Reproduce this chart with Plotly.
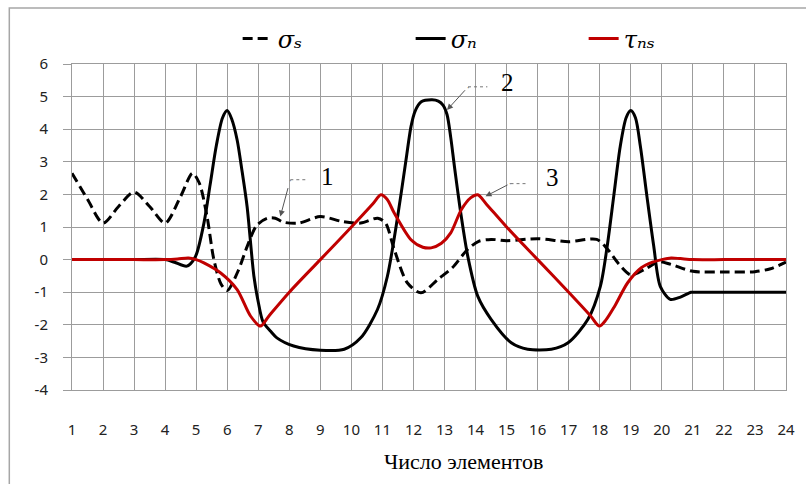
import plotly.graph_objects as go

# ---- data ----
x_ticks = list(range(1, 25))
y_ticks = list(range(-4, 7))

sigma_s_x = [1, 1.5, 2, 2.5, 3, 3.5, 4, 4.5, 4.88, 5.1, 5.35, 5.57, 5.8, 6.0, 6.35, 6.65, 6.95,
             7.3, 7.55, 7.8, 8.3, 9.0, 9.7, 10.3, 10.85, 11.1, 11.38, 11.8, 12.24, 12.78, 13.25,
             13.74, 14.1, 14.5, 15, 16, 17, 17.9, 18.26, 18.6, 19.0, 19.5, 19.9, 20.3, 21, 22,
             23, 23.5, 24]
sigma_s_y = [2.65, 1.85, 1.12, 1.63, 2.07, 1.63, 1.12, 1.94, 2.65, 2.35, 1.32, 0.0, -0.75, -0.95,
             -0.35, 0.42, 1.05, 1.27, 1.27, 1.15, 1.12, 1.32, 1.17, 1.12, 1.27, 1.12, 0.31, -0.71,
             -1.02, -0.61, -0.25, 0.31, 0.56, 0.62, 0.58, 0.64, 0.55, 0.62, 0.31, -0.12, -0.47,
             -0.27, -0.06, -0.15, -0.36, -0.38, -0.37, -0.28, -0.08]

sigma_n_x = [1, 2, 3, 4, 4.3, 4.7, 4.97, 5.25, 5.45, 5.65, 5.85, 6.0, 6.15, 6.32, 6.48, 6.64,
             6.86, 7.0, 7.15, 7.4, 7.6, 8.14, 9.0, 9.77, 10.3, 10.84, 11.16, 11.49, 11.76, 11.92,
             12.05, 12.25, 12.6, 12.8, 12.95, 13.08, 13.2, 13.32, 13.54, 13.75, 14.07, 14.5,
             15.15, 15.68, 16.44, 16.98, 17.62, 18.02, 18.24, 18.45, 18.66, 18.85, 19.0, 19.15,
             19.31, 19.52, 19.74, 19.95, 20.27, 20.6, 20.94, 21, 22, 23, 24]
sigma_n_y = [0, 0, 0, 0, -0.08, -0.2, 0.08, 1.12, 2.3, 3.5, 4.35, 4.57, 4.3, 3.67, 2.7, 1.63,
             -0.51, -1.3, -1.9, -2.2, -2.4, -2.65, -2.78, -2.75, -2.4, -1.53, -0.51, 1.32, 3.06,
             4.08, 4.55, 4.84, 4.9, 4.86, 4.74, 4.45, 3.75, 2.85, 1.32, 0.1, -1.12, -1.83, -2.55,
             -2.75, -2.75, -2.55, -1.83, -0.82, 0.41, 1.94, 3.47, 4.35, 4.57, 4.35, 3.47, 1.94,
             0.41, -0.82, -1.22, -1.15, -1.0, -1.0, -1.0, -1.0, -1.0]

tau_ns_x = [1, 2, 3, 4, 4.4, 4.75, 5.0, 5.25, 5.79, 6.32, 6.75, 7.07, 7.35, 8, 9, 10, 10.7,
            10.95, 11.15, 11.38, 11.92, 12.3, 12.57, 12.9, 13.2, 13.54, 13.85, 14.07, 14.35, 15,
            16, 17, 17.7, 17.99, 18.2, 18.48, 18.9, 19.34, 19.7, 20, 20.3, 20.6, 21, 22, 23, 24]
tau_ns_y = [0, 0, 0, 0, 0.02, 0.05, 0.0, -0.1, -0.41, -0.92, -1.73, -2.04, -1.72, -1.0, 0.0,
            1.0, 1.72, 1.99, 1.85, 1.43, 0.61, 0.38, 0.36, 0.5, 0.82, 1.53, 1.9, 1.99, 1.7, 1.0,
            0.0, -1.0, -1.72, -2.04, -1.85, -1.43, -0.71, -0.25, -0.08, 0.0, 0.05, 0.03, 0.0,
            0.0, 0.0, 0.0]

series_names = ["<i>σₛ</i>", "<i>σₙ</i>", "<i>τₙₛ</i>"]
x_title = "Число элементов"
callouts = ["1", "2", "3"]

RED = "#C00000"
GRID = "#9c9c9c"

fig = go.Figure()
fig.add_trace(go.Scatter(x=sigma_s_x, y=sigma_s_y, name=series_names[0], mode="lines",
                         line=dict(color="black", width=3, dash="10px,5px", shape="spline",
                                   smoothing=0.8)))
fig.add_trace(go.Scatter(x=sigma_n_x, y=sigma_n_y, name=series_names[1], mode="lines",
                         line=dict(color="black", width=3, shape="spline", smoothing=0.8)))
fig.add_trace(go.Scatter(x=tau_ns_x, y=tau_ns_y, name=series_names[2], mode="lines",
                         line=dict(color=RED, width=3, shape="spline", smoothing=0.8)))

tick_font = dict(family="Noto Sans, Lato, sans-serif", size=15, color="#222")

fig.update_layout(
    width=806, height=484,
    margin=dict(l=72, r=20, t=64, b=94),
    paper_bgcolor="white", plot_bgcolor="white",
    showlegend=True,
    legend=dict(orientation="h", x=0.232, xanchor="left", y=1.077, yanchor="middle",
                font=dict(family="DejaVu Serif, Liberation Serif, serif", size=24,
                          color="black"),
                entrywidth=128, entrywidthmode="pixels", bgcolor="rgba(0,0,0,0)"),
    xaxis=dict(range=[1, 24], tickmode="array", tickvals=x_ticks,
               ticktext=[str(v) for v in x_ticks], showgrid=True, gridcolor=GRID,
               gridwidth=1, showline=True, linecolor=GRID, mirror=True, zeroline=False,
               ticks="", ticklabelstandoff=26, tickfont=tick_font),
    yaxis=dict(range=[-4, 6], tickmode="array", tickvals=y_ticks,
               ticktext=[str(v) for v in y_ticks], showgrid=True, gridcolor=GRID,
               gridwidth=1, showline=True, linecolor=GRID, mirror=True, zeroline=False,
               ticks="outside", ticklen=8, tickcolor=GRID, ticklabelstandoff=12,
               tickfont=tick_font),
)

# x-axis title
fig.add_annotation(text=x_title, xref="paper", yref="paper", x=0.548, y=-0.265,
                   showarrow=False, font=dict(family="Liberation Serif, serif", size=22,
                                              color="black"))

# outer frame (left and top edges visible)
fig.add_shape(type="path", xref="paper", yref="paper",
              path="M -0.0878,-0.5 L -0.0878,1.1718 L 1.2,1.1718",
              line=dict(color="#a6a6a6", width=1.5))

# callouts
callout_tip_x = [7.71, 13.08, 14.32]
callout_tip_y = [1.32, 4.59, 1.94]
callout_ax = [10, 21, 25]
callout_ay = [-37, -23, -13]
callout_end_x = [8.61, 14.38, 15.67]
callout_elbow_y = [2.45, 5.3, 2.33]
callout_text_x = [9.22, 15.02, 16.47]
callout_text_y = [2.54, 5.44, 2.51]

for i in range(3):
    fig.add_annotation(x=callout_tip_x[i], y=callout_tip_y[i], text="·", showarrow=True,
                       ax=callout_ax[i], ay=callout_ay[i], arrowhead=2, arrowsize=1.2,
                       arrowwidth=1, arrowcolor="#555",
                       font=dict(size=10, color="#777"))
    fig.add_shape(type="line", x0=callout_tip_x[i] + callout_ax[i] / 31.04,
                  x1=callout_end_x[i], y0=callout_elbow_y[i], y1=callout_elbow_y[i],
                  line=dict(color="#777", width=1, dash="dot"))
    fig.add_annotation(x=callout_text_x[i], y=callout_text_y[i], text=callouts[i],
                       showarrow=False, font=dict(family="Liberation Serif, serif", size=25,
                                                  color="black"))

fig.write_html("out.html")
